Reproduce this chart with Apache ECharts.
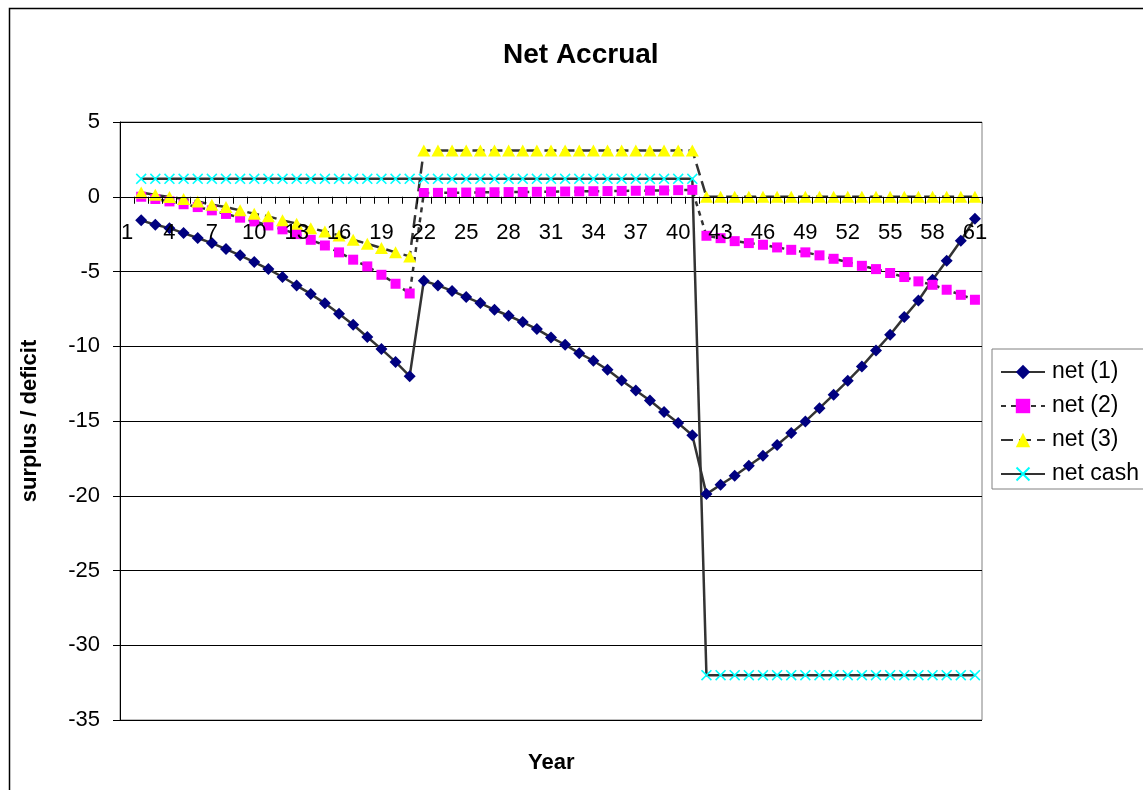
<!DOCTYPE html>
<html>
<head>
<meta charset="utf-8">
<script src="https://cdn.jsdelivr.net/npm/echarts@6/dist/echarts.min.js"></script>
<style>
html,body{margin:0;padding:0;background:#fff;}
#chart{width:1143px;height:790px;}
</style>
</head>
<body>
<div id="chart"></div>
<script>
// Categories: years 1..61
const years = [];
for (let i = 1; i <= 61; i++) years.push(String(i));

const net1 = [null,
  -1.58, -1.87, -2.10, -2.43, -2.76, -3.10, -3.50, -3.92, -4.37, -4.84,
  -5.37, -5.94, -6.50, -7.13, -7.83, -8.56, -9.38, -10.19, -11.05, -12.00,
  -5.62, -5.93, -6.30, -6.71, -7.11, -7.56, -7.96, -8.38, -8.85, -9.41,
  -9.90, -10.46, -10.97, -11.57, -12.29, -12.96, -13.63, -14.40, -15.14, -15.95,
  -19.89, -19.26, -18.66, -17.99, -17.32, -16.61, -15.81, -15.03, -14.14, -13.24,
  -12.31, -11.35, -10.28, -9.23, -8.05, -6.94, -5.55, -4.28, -2.94, -1.47];

const net2 = [null,
  0.00, -0.15, -0.31, -0.50, -0.69, -0.91, -1.15, -1.40, -1.65, -1.92,
  -2.18, -2.50, -2.88, -3.26, -3.72, -4.21, -4.66, -5.22, -5.82, -6.47,
  0.25, 0.26, 0.27, 0.28, 0.29, 0.30, 0.31, 0.32, 0.33, 0.34,
  0.35, 0.36, 0.37, 0.38, 0.39, 0.40, 0.41, 0.42, 0.44, 0.46,
  -2.61, -2.77, -2.97, -3.10, -3.21, -3.39, -3.55, -3.72, -3.92, -4.15,
  -4.37, -4.62, -4.84, -5.10, -5.37, -5.66, -5.89, -6.22, -6.56, -6.89];

const net3 = [null,
  0.29, 0.13, -0.02, -0.15, -0.31, -0.54, -0.69, -0.91, -1.14, -1.31,
  -1.58, -1.80, -2.10, -2.32, -2.59, -2.88, -3.14, -3.43, -3.72, -3.99,
  3.1, 3.1, 3.1, 3.1, 3.1, 3.1, 3.1, 3.1, 3.1, 3.1,
  3.1, 3.1, 3.1, 3.1, 3.1, 3.1, 3.1, 3.1, 3.1, 3.1,
  0, 0, 0, 0, 0, 0, 0, 0, 0, 0,
  0, 0, 0, 0, 0, 0, 0, 0, 0, 0];

const netCash = [null,
  1.2, 1.2, 1.2, 1.2, 1.2, 1.2, 1.2, 1.2, 1.2, 1.2,
  1.2, 1.2, 1.2, 1.2, 1.2, 1.2, 1.2, 1.2, 1.2, 1.2,
  1.2, 1.2, 1.2, 1.2, 1.2, 1.2, 1.2, 1.2, 1.2, 1.2,
  1.2, 1.2, 1.2, 1.2, 1.2, 1.2, 1.2, 1.2, 1.2, 1.2,
  -32, -32, -32, -32, -32, -32, -32, -32, -32, -32,
  -32, -32, -32, -32, -32, -32, -32, -32, -32, -32];

const seriesNames = ['net (1)', 'net (2)', 'net (3)', 'net cash'];

const FONT = '"Liberation Sans", Arial, sans-serif';
const xPath = 'path://M0,1L1,0L5,4L9,0L10,1L6,5L10,9L9,10L5,6L1,10L0,9L4,5Z';

const yMin = -35, yMax = 5;
const gridTop = 122, gridBottom = 70, chartH = 790;
const gridH = chartH - gridTop - gridBottom;
// shift the category axis up so it sits on the y = 0 line
const zeroOffset = -gridH * (0 - yMin) / (yMax - yMin);

const chart = echarts.init(document.getElementById('chart'));
chart.setOption({
  animation: false,
  backgroundColor: '#fff',
  title: {
    text: 'Net Accrual',
    left: 498, top: 36,
    textStyle: {fontFamily: FONT, fontSize: 28, fontWeight: 'bold', color: '#000'}
  },
  legend: {
    orient: 'vertical',
    left: 992, top: 349,
    padding: [11, 30, 3, 8],
    borderColor: '#808080', borderWidth: 1,
    backgroundColor: '#fff',
    itemWidth: 44, itemHeight: 18, itemGap: 10,
    textStyle: {fontFamily: FONT, fontSize: 23, lineHeight: 24, color: '#000', padding: [0, 0, 0, 2]},
    data: seriesNames
  },
  grid: {
    left: 120, right: 161, top: gridTop, bottom: gridBottom,
    show: true, borderColor: '#808080', borderWidth: 1, backgroundColor: '#fff'
  },
  xAxis: {
    type: 'category',
    data: years,
    boundaryGap: true,
    offset: zeroOffset,
    z: 10,
    axisLine: {onZero: false, lineStyle: {color: '#000', width: 1}},
    axisTick: {show: true, interval: 0, length: 7, lineStyle: {color: '#000'}},
    axisLabel: {interval: 2, fontFamily: FONT, fontSize: 22, color: '#000', margin: 25},
    splitLine: {show: false}
  },
  yAxis: {
    type: 'value',
    min: yMin, max: yMax, interval: 5,
    name: 'surplus / deficit',
    nameLocation: 'middle',
    nameGap: 79,
    nameRotate: 90,
    nameTextStyle: {fontFamily: FONT, fontSize: 22, fontWeight: 'bold', color: '#000'},
    axisLine: {show: true, lineStyle: {color: '#000', width: 1}},
    axisTick: {show: true, length: 7, lineStyle: {color: '#000'}},
    axisLabel: {fontFamily: FONT, fontSize: 22, color: '#000', margin: 20},
    splitLine: {show: true, lineStyle: {color: '#000', width: 1}}
  },
  graphic: [
    {type: 'rect', left: 7, top: 6, silent: true, z: -10,
     shape: {width: 1150, height: 800}, style: {fill: 'none', stroke: '#000', lineWidth: 1.5}},
    {type: 'text', left: 528, top: 752,
     style: {text: 'Year', font: 'bold 22px ' + FONT, fill: '#000'}}
  ],
  series: [
    {name: seriesNames[0], type: 'line', data: net1, showAllSymbol: true,
     symbol: 'diamond', symbolSize: 12,
     itemStyle: {color: '#000080'},
     lineStyle: {color: '#333', width: 2.5, type: 'solid'}},
    {name: seriesNames[1], type: 'line', data: net2, showAllSymbol: true,
     symbol: 'rect', symbolSize: 10,
     itemStyle: {color: '#FF00FF'},
     lineStyle: {color: '#333', width: 2.5, type: [5, 5]}},
    {name: seriesNames[2], type: 'line', data: net3, showAllSymbol: true,
     symbol: 'triangle', symbolSize: [13, 12],
     itemStyle: {color: '#FFFF00'},
     lineStyle: {color: '#333', width: 2.5, type: [12, 6]}},
    {name: seriesNames[3], type: 'line', data: netCash, showAllSymbol: true,
     symbol: xPath, symbolSize: 11,
     itemStyle: {color: '#00FFFF'},
     lineStyle: {color: '#333', width: 2.5, type: 'solid'}}
  ]
});
</script>
</body>
</html>
